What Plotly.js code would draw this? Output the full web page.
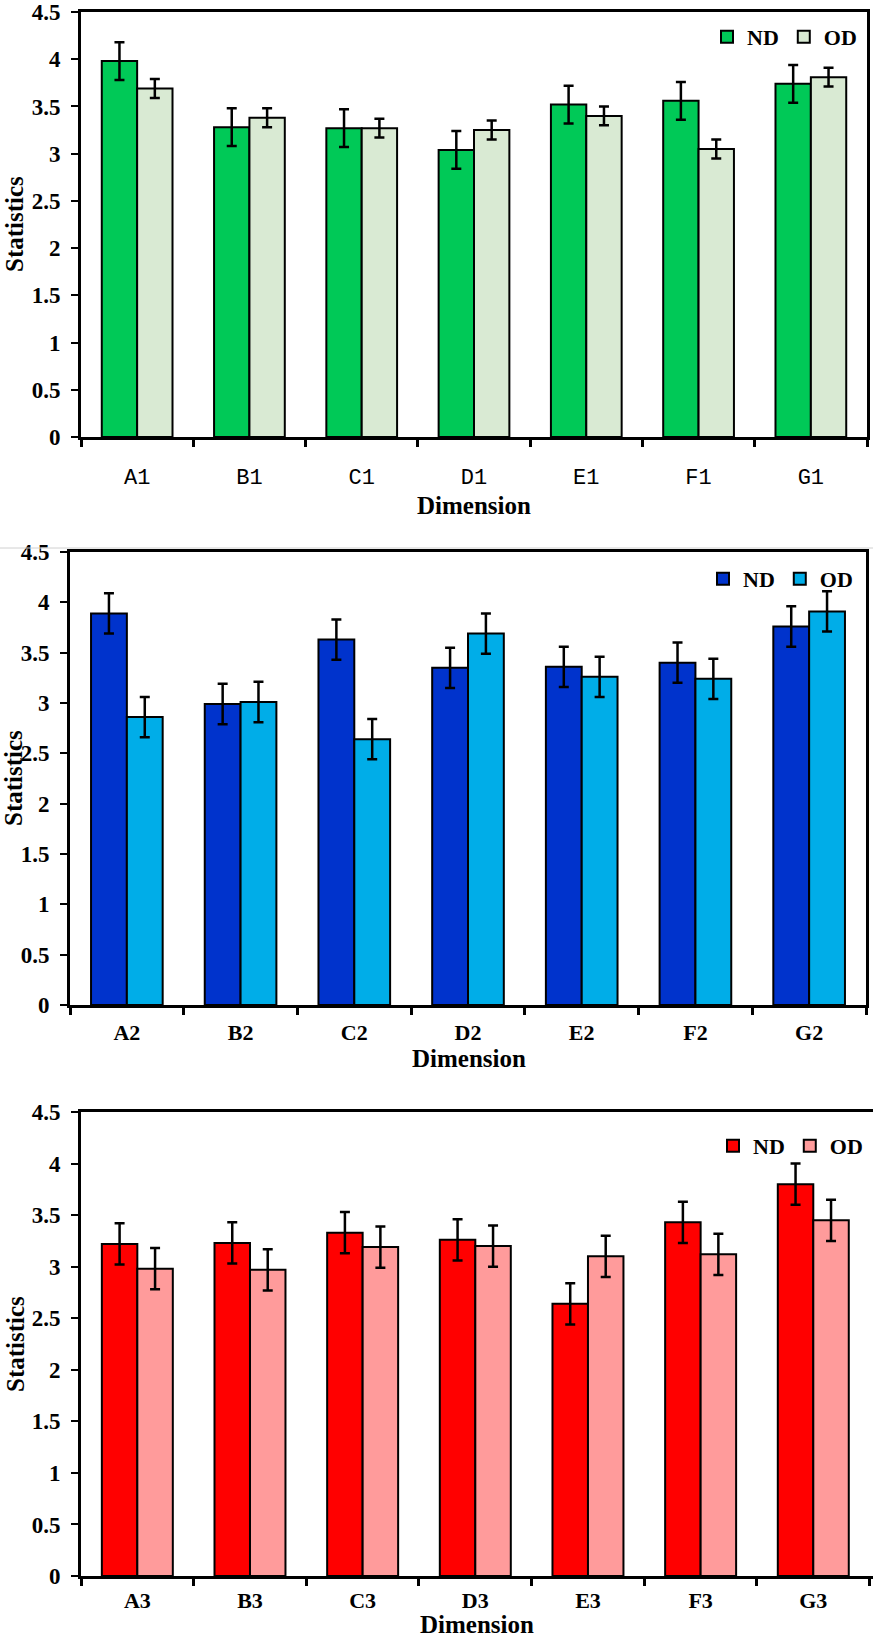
<!DOCTYPE html>
<html>
<head>
<meta charset="utf-8">
<script src="https://cdn.plot.ly/plotly-3.0.1.min.js"></script>
<style>html,body{margin:0;padding:0;background:#fff;}#chart{width:873px;height:1637px;}</style>
</head>
<body>
<div id="chart"></div>
<script>
// ---- data ----
const cats1 = ["A1","B1","C1","D1","E1","F1","G1"];
const nd1 = [3.98, 3.28, 3.27, 3.04, 3.52, 3.56, 3.74];
const od1 = [3.69, 3.38, 3.27, 3.25, 3.40, 3.05, 3.81];
const ndErr1 = [0.2, 0.2, 0.2, 0.2, 0.2, 0.2, 0.2];
const odErr1 = [0.1, 0.1, 0.1, 0.1, 0.1, 0.1, 0.1];

const cats2 = ["A2","B2","C2","D2","E2","F2","G2"];
const nd2 = [3.89, 2.99, 3.63, 3.35, 3.36, 3.40, 3.76];
const od2 = [2.86, 3.01, 2.64, 3.69, 3.26, 3.24, 3.91];
const ndErr2 = [0.2, 0.2, 0.2, 0.2, 0.2, 0.2, 0.2];
const odErr2 = [0.2, 0.2, 0.2, 0.2, 0.2, 0.2, 0.2];

const cats3 = ["A3","B3","C3","D3","E3","F3","G3"];
const nd3 = [3.22, 3.23, 3.33, 3.26, 2.64, 3.43, 3.80];
const od3 = [2.98, 2.97, 3.19, 3.20, 3.10, 3.12, 3.45];
const ndErr3 = [0.2, 0.2, 0.2, 0.2, 0.2, 0.2, 0.2];
const odErr3 = [0.2, 0.2, 0.2, 0.2, 0.2, 0.2, 0.2];

const seriesNames = ["ND", "OD"];
const yTitle = "Statistics";
const xTitle = "Dimension";

// ---- styling ----
const W = 873, H = 1637;
const px = v => v / W;
const py = v => 1 - v / H;
const serif = "Liberation Serif, Times New Roman, serif";

function bar(x, y, err, color, name, xa, ya, lg) {
  return {
    type: "bar", x: x, y: y, name: name,
    xaxis: xa, yaxis: ya, legend: lg,
    marker: {color: color, line: {color: "#000", width: 2}},
    error_y: {type: "data", array: err, visible: true, color: "#000", thickness: 2.5, width: 5},
    hoverinfo: "x+y"
  };
}

const data = [
  bar(cats1, nd1, ndErr1, "#00c957", seriesNames[0], "x", "y", "legend"),
  bar(cats1, od1, odErr1, "#d9ead3", seriesNames[1], "x", "y", "legend"),
  bar(cats2, nd2, ndErr2, "#0033cc", seriesNames[0], "x2", "y2", "legend2"),
  bar(cats2, od2, odErr2, "#00ade8", seriesNames[1], "x2", "y2", "legend2"),
  bar(cats3, nd3, ndErr3, "#ff0000", seriesNames[0], "x3", "y3", "legend3"),
  bar(cats3, od3, odErr3, "#ff9b9b", seriesNames[1], "x3", "y3", "legend3")
];

function xaxis(domain, anchor, font, standoff, rng) {
  return {
    domain: domain, anchor: anchor, type: "category",
    range: rng || [-0.5, 6.5],
    showline: true, linecolor: "#000", linewidth: 3, mirror: true,
    ticks: "outside", tickson: "boundaries", ticklen: 7, tickwidth: 3, tickcolor: "#000",
    tickfont: font, ticklabelstandoff: standoff, ticklabeloverflow: "allow",
    showgrid: false, zeroline: false, fixedrange: true
  };
}
function yaxis(domain, anchor, mirror) {
  return {
    domain: domain, anchor: anchor, range: [0, 4.5], dtick: 0.5, tick0: 0,
    showline: true, linecolor: "#000", linewidth: 3, mirror: mirror,
    ticks: "outside", ticklen: 7, tickwidth: 2, tickcolor: "#000",
    tickfont: {family: serif, size: 23, color: "#000", weight: "bold"},
    ticklabelstandoff: 6, ticklabeloverflow: "allow",
    showgrid: false, zeroline: false, fixedrange: true
  };
}
function legend(x, y) {
  return {
    orientation: "h", x: x, y: y, xanchor: "right", yanchor: "middle",
    xref: "paper", yref: "paper",
    font: {family: serif, size: 22, color: "#000", weight: "bold"},
    bgcolor: "rgba(0,0,0,0)", itemwidth: 30, traceorder: "normal",
    itemclick: false, itemdoubleclick: false
  };
}

const monoFont = {family: "Liberation Mono, Courier New, monospace", size: 22, color: "#000"};
const boldFont = {family: serif, size: 22, color: "#000", weight: "bold"};

function ann(text, x, y, angle) {
  return {
    text: text, xref: "paper", yref: "paper", x: px(x), y: py(y),
    xanchor: "center", yanchor: "middle", showarrow: false, textangle: angle || 0,
    font: {family: serif, size: 25, color: "#000", weight: "bold"}
  };
}

const layout = {
  width: W, height: H,
  margin: {l: 0, r: 0, t: 0, b: 0},
  paper_bgcolor: "#fff", plot_bgcolor: "#fff",
  barmode: "group", bargap: 0.37, bargroupgap: 0,
  showlegend: true,
  xaxis: xaxis([px(81), px(867)], "y", monoFont, 18),
  yaxis: yaxis([py(437), py(12)], "x", true),
  xaxis2: xaxis([px(70), px(866)], "y2", boldFont, 6),
  yaxis2: yaxis([py(1005), py(552)], "x2", true),
  xaxis3: xaxis([px(81), 1], "y3", boldFont, 3, [-0.5, 6.53]),
  yaxis3: yaxis([py(1576), py(1112)], "x3", false),
  legend: legend(px(862), py(37)),
  legend2: legend(px(858), py(579)),
  legend3: legend(px(868), py(1146)),
  annotations: [
    ann(yTitle, 15, 224, -90),
    ann(xTitle, 474, 505),
    ann(yTitle, 13, 778, -90),
    ann(xTitle, 469, 1058),
    ann(yTitle, 15, 1344, -90),
    ann(xTitle, 477, 1624)
  ],
  shapes: [
    {type: "line", xref: "paper", yref: "paper", x0: 0, x1: 1, y0: py(548), y1: py(548),
     line: {color: "#d0d0d0", width: 1}}
  ]
};

Plotly.newPlot("chart", data, layout, {displayModeBar: false, staticPlot: true});
</script>
</body>
</html>
